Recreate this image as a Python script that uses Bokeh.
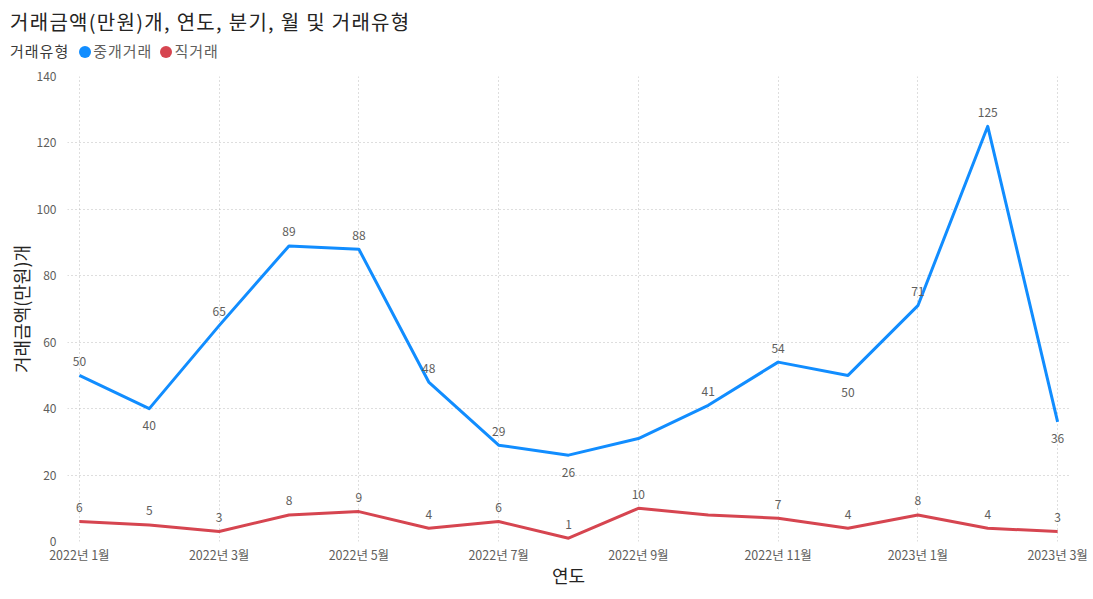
from bokeh.plotting import figure
from bokeh.models import ColumnDataSource, FixedTicker, Div
from bokeh.layouts import column
from bokeh.core.properties import value
from bokeh.embed import file_html
from bokeh.resources import INLINE

months = ["2022년 1월", "2022년 2월", "2022년 3월", "2022년 4월", "2022년 5월", "2022년 6월",
          "2022년 7월", "2022년 8월", "2022년 9월", "2022년 10월", "2022년 11월", "2022년 12월",
          "2023년 1월", "2023년 2월", "2023년 3월"]
brokered = [50, 40, 65, 89, 88, 48, 29, 26, 31, 41, 54, 50, 71, 125, 36]
direct = [6, 5, 3, 8, 9, 4, 6, 1, 10, 8, 7, 4, 8, 4, 3]
brokered_shown = [1, 1, 1, 1, 1, 1, 1, 1, 0, 1, 1, 1, 1, 1, 1]
direct_shown = [1, 1, 1, 1, 1, 1, 1, 1, 1, 0, 1, 1, 1, 1, 1]
series_names = ["중개거래", "직거래"]
legend_title = "거래유형"
title_text = "거래금액(만원)개, 연도, 분기, 월 및 거래유형"
x_title = "연도"
y_title = "거래금액(만원)개"

BLUE = "#118DFF"
RED = "#D64550"
FONT = "Noto Sans CJK KR"
GREY = "#605E5C"
DARK = "#252423"
W = 1092

# header (title + legend)
def dot(color, ml):
    return (f'<span style="display:inline-block;width:12px;height:12px;border-radius:50%;'
            f'background:{color};margin-left:{ml}px;margin-right:2px;vertical-align:middle;'
            f'position:relative;top:-1px"></span>')

header_html = (
    f'<div style="font-family:\'{FONT}\';padding-left:10px;padding-top:9px;white-space:nowrap">'
    f'<div style="font-size:20px;line-height:26px;letter-spacing:1.3px;color:{DARK}">{title_text}</div>'
    f'<div style="font-size:15px;line-height:20px;margin-top:6px;letter-spacing:1px;color:{GREY}">'
    f'<span style="color:#3B3A39">{legend_title}</span>'
    f'{dot(BLUE, 10)}<span>{series_names[0]}</span>'
    f'{dot(RED, 8)}<span>{series_names[1]}</span>'
    f'</div></div>'
)
header = Div(text=header_html, width=W, height=66, margin=(0, 0, 0, 0))

xs = list(range(len(months)))

p = figure(width=W, height=532, output_backend="svg", toolbar_location=None,
           x_range=(-0.17, len(months) - 1 + 0.17), y_range=(0, 140),
           min_border_left=67, min_border_right=23, min_border_top=10, min_border_bottom=57,
           margin=(0, 0, 0, 0))
p.outline_line_color = None
p.background_fill_color = "white"
p.border_fill_color = "white"

ticks = xs[::2]
p.xaxis.ticker = FixedTicker(ticks=ticks)
p.xaxis.major_label_overrides = {i: months[i] for i in ticks}
p.yaxis.ticker = FixedTicker(ticks=list(range(0, 141, 20)))
for ax in (p.xaxis[0], p.yaxis[0]):
    ax.axis_line_color = None
    ax.major_tick_line_color = None
    ax.minor_tick_line_color = None
    ax.major_tick_in = 0
    ax.major_tick_out = 0
    ax.major_label_text_font = FONT
    ax.major_label_text_font_size = "12px"
    ax.major_label_text_color = GREY
    ax.axis_label_text_font = FONT
    ax.axis_label_text_font_size = "18px"
    ax.axis_label_text_font_style = "normal"
    ax.axis_label_text_color = DARK
p.xaxis.major_label_text_font_size = "12.5px"
p.xaxis.axis_label = x_title
p.yaxis.axis_label = y_title
p.xaxis.major_label_standoff = 3
p.xaxis.axis_label_standoff = -5
p.yaxis.major_label_standoff = 11
p.yaxis.axis_label_standoff = 0

p.xgrid.ticker = FixedTicker(ticks=ticks)
for g in (p.xgrid[0], p.ygrid[0]):
    g.grid_line_color = "#BDBDBD"
    g.grid_line_dash = "1 3"
    g.grid_line_width = 1


def offsets(vals, allow_below):
    out = []
    n = len(vals)
    for i, v in enumerate(vals):
        prev = vals[i - 1] if i > 0 else None
        nxt = vals[i + 1] if i < n - 1 else None
        lower = all(v < o for o in (prev, nxt) if o is not None)
        out.append(17 if (allow_below and lower) else -14)
    return out


b_src = ColumnDataSource(dict(x=xs, y=brokered,
                              t=[str(v) if s else "" for v, s in zip(brokered, brokered_shown)],
                              off=offsets(brokered, True)))
d_src = ColumnDataSource(dict(x=xs, y=direct,
                              t=[str(v) if s else "" for v, s in zip(direct, direct_shown)],
                              off=offsets(direct, False)))

p.line("x", "y", source=b_src, line_color=BLUE, line_width=3, line_join="round")
p.line("x", "y", source=d_src, line_color=RED, line_width=3, line_join="round")
for src in (b_src, d_src):
    p.text("x", "y", text="t", y_offset="off", source=src, text_align="center",
           text_baseline="middle", text_font=value(FONT), text_font_size="12px",
           text_color=GREY)

layout = column(header, p, spacing=0, margin=(0, 0, 0, 0))
open("out.html", "w").write(file_html(layout, INLINE))
